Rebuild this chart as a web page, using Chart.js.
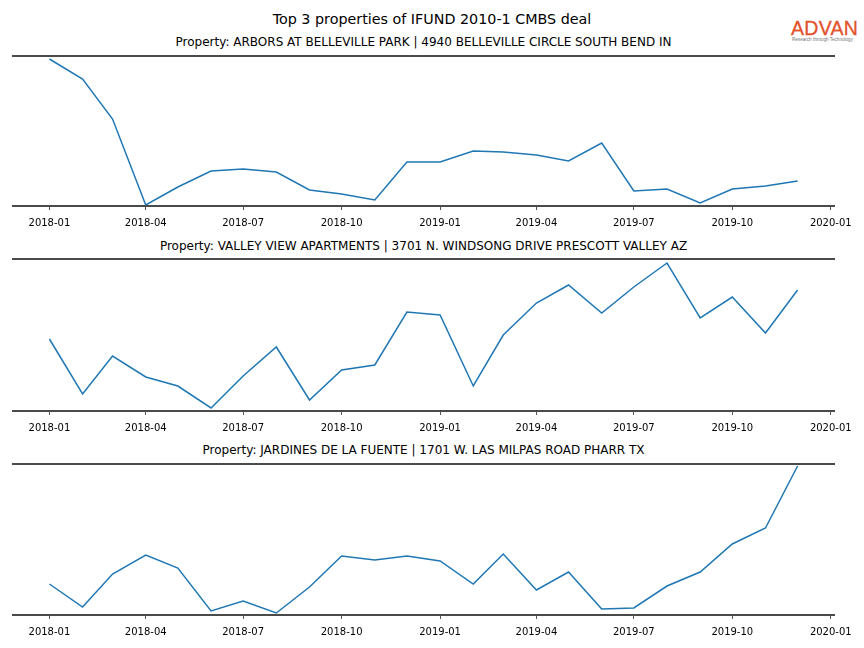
<!DOCTYPE html>
<html>
<head>
<meta charset="utf-8">
<script src="https://cdn.jsdelivr.net/npm/chart.js@4"></script>
<style>
  body { margin: 0; background: #fff; width: 864px; height: 648px; position: relative; overflow: hidden; font-family: "DejaVu Sans", sans-serif; }
  .title { position: absolute; left: 0; white-space: nowrap; text-align: center; color: #000; }
  canvas { position: absolute; left: 0; }
  #logo { position: absolute; left: 791px; top: 18px; font-family: "Liberation Sans", sans-serif; color: #e2522b; font-size: 19.5px; line-height: 20px; letter-spacing: 0.3px; -webkit-text-stroke: 0.3px #e2522b; }
  #logoSub { position: absolute; left: 792px; top: 37px; font-family: "Liberation Sans", sans-serif; color: #777; font-size: 4.6px; line-height: 5px; white-space: nowrap; }
</style>
</head>
<body>
<div class="title" style="width:864px; top:12px; font-size:14.3px; line-height:14px;">Top 3 properties of IFUND 2010-1 CMBS deal</div>
<div id="logo">ADVAN</div>
<div id="logoSub">Research through Technology</div>

<div class="title" style="width:847px; top:36px; font-size:12px; line-height:12px;">Property: ARBORS AT BELLEVILLE PARK | 4940 BELLEVILLE CIRCLE SOUTH BEND IN</div>
<canvas id="chart1" width="864" height="186" style="top:50px"></canvas>

<div class="title" style="width:847px; top:240px; font-size:12px; line-height:12px;">Property: VALLEY VIEW APARTMENTS | 3701 N. WINDSONG DRIVE PRESCOTT VALLEY AZ</div>
<canvas id="chart2" width="864" height="188" style="top:253px"></canvas>

<div class="title" style="width:847px; top:444px; font-size:12px; line-height:12px;">Property: JARDINES DE LA FUENTE | 1701 W. LAS MILPAS ROAD PHARR TX</div>
<canvas id="chart3" width="864" height="187" style="top:458px"></canvas>

<script>
const months = ["2018-01","2018-02","2018-03","2018-04","2018-05","2018-06","2018-07","2018-08","2018-09","2018-10","2018-11","2018-12",
                "2019-01","2019-02","2019-03","2019-04","2019-05","2019-06","2019-07","2019-08","2019-09","2019-10","2019-11","2019-12"];
const arborsValues = [147, 127, 87, 1, 19, 35, 37, 34, 16, 12, 6, 44, 44, 55, 54, 51, 45, 63, 15, 17, 3, 17, 20, 25];
const valleyViewValues = [72, 17, 55, 34, 25, 3, 35, 64, 11, 41, 46, 99, 96, 25, 76, 108, 126, 98, 124, 148, 93, 114, 78, 121];
const jardinesValues = [31, 8, 41, 60, 47, 4, 14, 2, 28, 59, 55, 59, 54, 31, 61, 25, 43, 6, 7, 29, 43, 71, 87, 149];
const tickLabels = ["2018-01","2018-04","2018-07","2018-10","2019-01","2019-04","2019-07","2019-10","2020-01"];

// days since 2018-01-01
function toDay(str) {
  const parts = str.split("-");
  return (Date.UTC(Number(parts[0]), Number(parts[1]) - 1, 1) - Date.UTC(2018, 0, 1)) / 86400000;
}
const tickDays = tickLabels.map(toDay);
const firstDay = toDay(months[0]);
const lastDay = toDay(months[months.length - 1]);
const margin = (lastDay - firstDay) * 0.05;

// top and bottom spines
const spines = {
  id: "spines",
  afterDraw(chart) {
    const a = chart.chartArea;
    const ctx = chart.ctx;
    ctx.save();
    ctx.strokeStyle = "#4a4a4a";
    ctx.lineWidth = 2;
    ctx.beginPath();
    ctx.moveTo(a.left, a.top);
    ctx.lineTo(a.right, a.top);
    ctx.moveTo(a.left, a.bottom);
    ctx.lineTo(a.right, a.bottom);
    ctx.stroke();
    ctx.restore();
  }
};

function renderChart(id, values, yMax) {
  const points = months.map((m, i) => ({ x: toDay(m), y: values[i] }));
  new Chart(document.getElementById(id), {
    type: "line",
    data: {
      datasets: [{
        data: points,
        borderColor: "#1f77b4",
        borderWidth: 1.5,
        pointRadius: 0,
        tension: 0,
        fill: false
      }]
    },
    options: {
      responsive: false,
      animation: false,
      layout: { padding: { top: 6, left: 12, right: 29, bottom: 0 } },
      plugins: { legend: { display: false }, tooltip: { enabled: false }, title: { display: false } },
      scales: {
        x: {
          type: "linear",
          min: firstDay - margin,
          max: lastDay + margin,
          afterBuildTicks: (scale) => { scale.ticks = tickDays.map(v => ({ value: v })); },
          afterFit: (scale) => { scale.height = 30; },
          border: { display: false },
          grid: { display: true, drawOnChartArea: false, drawTicks: true, tickLength: 4, color: "#555", lineWidth: 1 },
          ticks: {
            autoSkip: false,
            maxRotation: 0,
            padding: 7,
            color: "#000",
            font: { family: "DejaVu Sans", size: 10 },
            callback: (value) => tickLabels[tickDays.indexOf(value)]
          }
        },
        y: { display: false, min: 0, max: yMax }
      }
    },
    plugins: [spines]
  });
}

renderChart("chart1", arborsValues, 150);
renderChart("chart2", valleyViewValues, 152);
renderChart("chart3", jardinesValues, 151);
</script>
</body>
</html>
